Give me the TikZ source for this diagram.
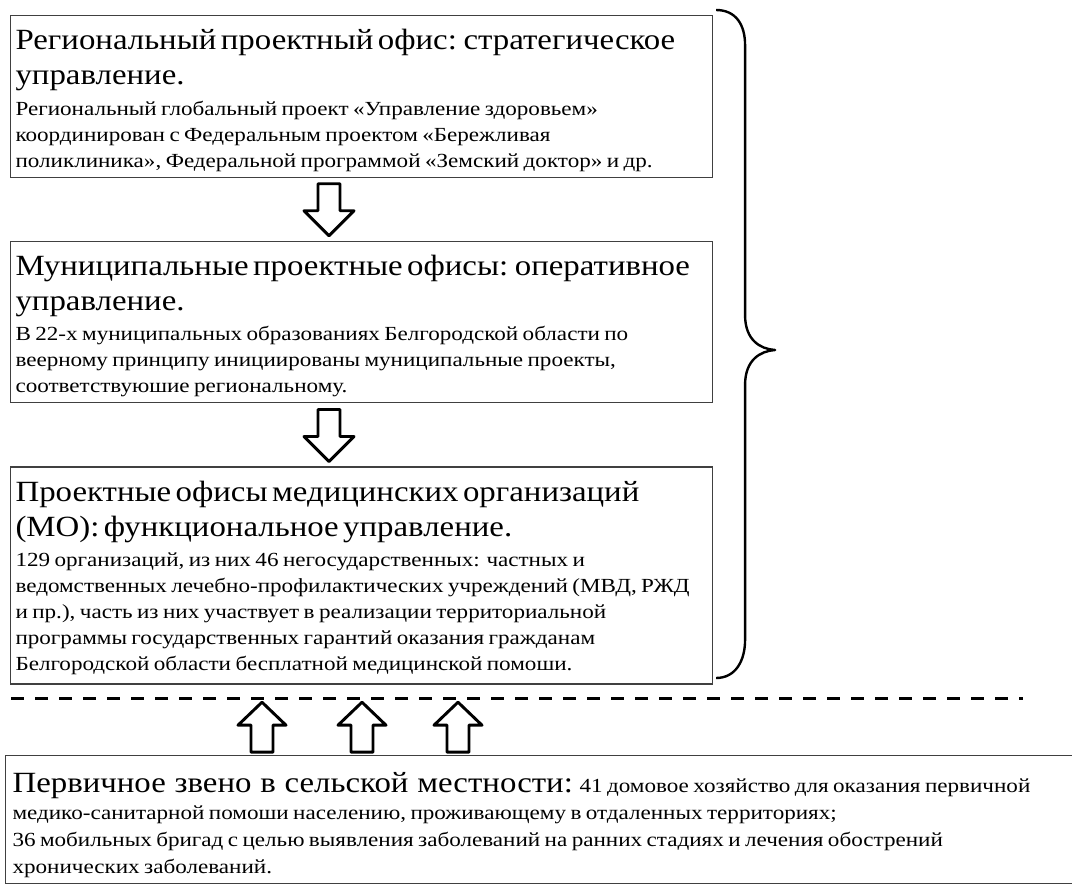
\documentclass[tikz,border=0pt]{standalone}
\usepackage{fontspec}
\setmainfont{Liberation Serif}
\newfontfamily\headserif[FakeStretch=1.12]{Liberation Serif}
\newfontfamily\noteserif[FakeStretch=1.155]{Liberation Serif}
\usetikzlibrary{positioning, calc}

\newcommand{\headfont}{\headserif\fontsize{22pt}{26.25pt}\selectfont}
\newcommand{\notefont}{\noteserif\fontsize{15pt}{19.5pt}\selectfont}
\newcommand{\topstrut}{\rule{0pt}{25.5pt}}
\newcommand{\botstrut}{\rule[-7.5pt]{0pt}{7.5pt}}

\begin{document}
\begin{tikzpicture}[x=0.75pt, y=-0.75pt,
    office/.style={rectangle,
      draw=black!75,
      line width=0.8pt,
      anchor=north west,
      align=left,
      text width=#1,
      inner xsep=3.75pt,
      inner ysep=0pt},
    office/.default=519pt,
    blockdown/.pic={
      \draw[line width=2.2pt, line join=round, fill=white]
        (-11,0) -- (-11,27) -- (-25,27) -- (0,52) -- (25,27) -- (11,27) -- (11,0) -- cycle;
    },
    blockup/.pic={
      \draw[line width=2.2pt, line join=round, fill=white]
        (-11,0) -- (-11,-27) -- (-24,-27) -- (0,-50) -- (24,-27) -- (11,-27) -- (11,0) -- cycle;
    }]
  \useasboundingbox (0,0) rectangle (1072,889);
  \clip (0,0) rectangle (1072,889);

  % OFFICES

  \node[office] (regional) at (10,15) {%
    {\headfont\topstrut Региональный проектный офис: стратегическое\\
      управление.\par}
    \vspace{3.5pt}
    {\notefont Региональный глобальный проект «Управление здоровьем»\\
      координирован с Федеральным проектом «Бережливая\\
      поликлиника», Федеральной программой «Земский доктор» и др.\botstrut\par}
  };

  \node[office,
    below=47.25pt of regional.south west,
    anchor=north west] (municipal) {%
    {\headfont\topstrut Муниципальные проектные офисы: оперативное\\
      управление.\par}
    \vspace{3.5pt}
    {\notefont В 22-х муниципальных образованиях Белгородской области по\\
      веерному принципу инициированы муниципальные проекты,\\
      соответствуюшие региональному.\botstrut\par}
  };

  \node[office,
    below=47.25pt of municipal.south west,
    anchor=north west] (medorgs) {%
    {\headfont\topstrut Проектные офисы медицинских организаций\\
      (МО): функциональное управление.\par}
    \vspace{3.5pt}
    {\notefont 129 организаций, из них 46 негосударственных: частных и\\
      ведомственных лечебно-профилактических учреждений (МВД, РЖД\\
      и пр.), часть из них участвует в реализации территориальной\\
      программы государственных гарантий оказания гражданам\\
      Белгородской области бесплатной медицинской помоши.\rule[-10pt]{0pt}{10pt}\par}
  };

  \node[office=820pt,
    inner xsep=5.25pt,
    below=53pt of medorgs.south west,
    xshift=-3.75pt,
    anchor=north west] (rural) {%
    {\notefont\setlength{\baselineskip}{20.25pt}%
      \rule{0pt}{27.75pt}{\headfont\spaceskip=0.3em Первичное звено в сельской местности:} 41 домовое хозяйство для оказания первичной\\
      медико-санитарной помоши населению, проживающему в отдаленных территориях;\\
      36 мобильных бригад с целью выявления заболеваний на ранних стадиях и лечения обострений\\
      хронических заболеваний.\botstrut\botstrut\par}
  };

  % ARROWS

  \path (regional.south west) ++(319,6) pic {blockdown};
  \path (municipal.south west) ++(319,6) pic {blockdown};
  \foreach \dx in {257,357,453}
    \path (rural.north west) ++(\dx,-3) pic {blockup};

  % LEVEL BORDER

  \draw[line width=2.2pt, dash pattern=on 9.75pt off 8.25pt]
    ($(medorgs.south west)+(1,14)$) -- ++(1012,0);

  % BRACE

  \draw[line width=1.8pt, line join=round]
    ($(regional.north east)+(3,-5)$)
      .. controls +(20,0) and +(0,-20) .. ++(29,35)
      -- ++(0,270)
      .. controls +(0,25) and +(-15,-1) .. ++(30,35)
      .. controls +(-15,1) and +(0,-25) .. ++(-30,35)
      -- ++(0,255)
      .. controls +(0,20) and +(20,0) .. ++(-29,38);

\end{tikzpicture}
\end{document}
